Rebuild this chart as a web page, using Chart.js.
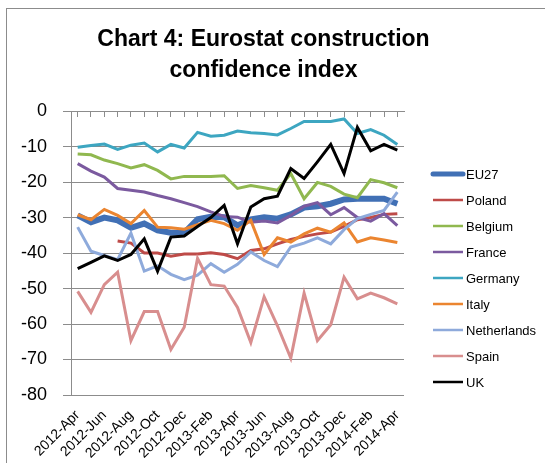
<!DOCTYPE html>
<html>
<head>
<meta charset="utf-8">
<script src="https://cdn.jsdelivr.net/npm/chart.js@4.4.0/dist/chart.umd.min.js"></script>
<style>
html, body { margin: 0; padding: 0; background: #fff; }
</style>
</head>
<body>
<canvas id="chart4" width="545" height="463"></canvas>
<script>
var months = ['2012-Apr', '2012-May', '2012-Jun', '2012-Jul', '2012-Aug', '2012-Sep', '2012-Oct', '2012-Nov', '2012-Dec',
    '2013-Jan', '2013-Feb', '2013-Mar', '2013-Apr', '2013-May', '2013-Jun', '2013-Jul', '2013-Aug', '2013-Sep',
    '2013-Oct', '2013-Nov', '2013-Dec', '2014-Jan', '2014-Feb', '2014-Mar', '2014-Apr'];

var eu27 = [-29.4, -31.3, -30.0, -30.8, -32.9, -31.7, -33.6, -34.3, -34.3, -30.5, -29.8, -29.9, -32.2, -30.5, -29.9, -30.3, -29.1, -27.2, -26.8, -26.1, -24.9, -24.7, -24.7, -24.7, -26.1];
var poland = [null, null, null, -36.6, -37.2, -40.0, -40.0, -40.9, -40.3, -40.3, -39.9, -40.4, -41.6, -39.3, -38.8, -37.4, -36.2, -35.3, -34.6, -34.1, -32.5, -30.6, -30.0, -29.1, -28.9];
var belgium = [-12.1, -12.3, -13.8, -14.8, -16.0, -15.1, -16.7, -19.1, -18.4, -18.4, -18.4, -18.2, -21.8, -21.0, -21.6, -22.3, -17.6, -24.7, -20.1, -21.2, -23.4, -24.4, -19.3, -20.2, -21.6];
var france = [-14.8, -16.9, -18.6, -21.8, -22.3, -22.8, -23.8, -24.7, -25.8, -26.9, -28.4, -29.7, -29.9, -31.3, -31.0, -31.5, -29.4, -26.8, -25.8, -29.2, -27.2, -30.0, -31.0, -28.9, -32.3];
var germany = [-10.2, -9.7, -9.3, -10.8, -9.6, -9.0, -11.5, -9.4, -10.4, -6.0, -7.1, -6.8, -5.6, -6.1, -6.3, -6.7, -4.9, -2.9, -2.9, -2.9, -2.2, -6.3, -5.2, -6.8, -9.4];
var italy = [-29.2, -30.6, -27.7, -29.4, -31.7, -28.0, -32.7, -32.9, -33.3, -32.0, -30.8, -31.7, -33.6, -30.8, -40.4, -35.7, -36.9, -34.6, -33.0, -34.1, -31.5, -36.9, -35.7, -36.3, -37.0];
var netherlands = [-32.7, -39.5, -40.7, -41.9, -34.4, -45.1, -43.6, -46.0, -47.5, -46.2, -43.0, -45.4, -43.2, -39.7, -42.1, -43.8, -38.3, -37.2, -35.7, -37.4, -33.4, -30.3, -29.1, -28.0, -22.8];
var spain = [-50.8, -56.7, -48.9, -45.4, -64.7, -56.5, -56.5, -67.2, -60.9, -41.5, -48.9, -49.3, -55.3, -65.2, -52.3, -60.5, -69.6, -51.3, -64.7, -60.2, -46.8, -52.9, -51.3, -52.6, -54.3];
var uk = [-44.4, -42.6, -40.8, -42.1, -40.4, -36.0, -45.1, -35.5, -35.2, -32.5, -30.0, -26.6, -37.4, -27.0, -24.7, -24.0, -16.2, -19.0, -14.3, -9.4, -17.6, -4.6, -11.2, -9.4, -11.0];

var seriesNames = ['EU27', 'Poland', 'Belgium', 'France', 'Germany', 'Italy', 'Netherlands', 'Spain', 'UK'];
var seriesData = [eu27, poland, belgium, france, germany, italy, netherlands, spain, uk];
var seriesColors = ['#4170B5', '#BE4B48', '#90B84F', '#7B5A9F', '#3DA6C1', '#EB8530', '#8EAADB', '#D88E8E', '#000000'];

Chart.defaults.font.family = '"Liberation Sans", Arial, sans-serif';
Chart.defaults.color = '#000';

// white page plus the thin frame round the chart
var frame = {
    id: 'frame',
    beforeDraw: function (chart) {
        var ctx = chart.ctx;
        ctx.save();
        ctx.fillStyle = '#fff';
        ctx.fillRect(0, 0, chart.width, chart.height);
        ctx.strokeStyle = '#8c8c8c';
        ctx.lineWidth = 1;
        ctx.strokeRect(6.5, 8.5, 600, 600);
        ctx.restore();
    }
};

// legend on the right, one row per series
var sideLegend = {
    id: 'sideLegend',
    afterDraw: function (chart) {
        var ctx = chart.ctx;
        ctx.save();
        ctx.font = '13px "Liberation Sans", Arial, sans-serif';
        ctx.textBaseline = 'middle';
        chart.data.datasets.forEach(function (ds, i) {
            var y = 174 + i * 26;
            ctx.strokeStyle = ds.borderColor;
            ctx.lineWidth = i === 0 ? 5 : 2.5;
            ctx.lineCap = i === 0 ? 'round' : 'butt';
            ctx.beginPath();
            ctx.moveTo(433, y);
            ctx.lineTo(463, y);
            ctx.stroke();
            ctx.fillStyle = '#000';
            ctx.fillText(ds.label, 466, y + 1);
        });
        ctx.restore();
    }
};

var datasets = seriesNames.map(function (name, i) {
    return {
        label: name,
        data: seriesData[i],
        borderColor: seriesColors[i],
        backgroundColor: seriesColors[i],
        borderWidth: i === 0 ? 6 : 3,
        pointRadius: 0,
        tension: 0,
        fill: false,
        spanGaps: false,
        order: seriesNames.length - i
    };
});

var ctx = document.getElementById('chart4').getContext('2d');
var chart4 = new Chart(ctx, {
    type: 'line',
    data: {
        labels: months,
        datasets: datasets
    },
    options: {
        responsive: false,
        animation: false,
        layout: {
            padding: { left: 0, right: 18, top: 0, bottom: 0 }
        },
        plugins: {
            legend: { display: false },
            tooltip: { enabled: false },
            title: {
                display: true,
                text: ['Chart 4: Eurostat construction', 'confidence index'],
                color: '#000',
                font: { size: 23, weight: 'bold', lineHeight: 1.35 },
                padding: { top: 24, bottom: 25 }
            }
        },
        scales: {
            x: {
                type: 'category',
                position: 'bottom',
                offset: true,
                grid: { display: false },
                border: { display: false },
                ticks: {
                    autoSkip: false,
                    minRotation: 45,
                    maxRotation: 45,
                    padding: 4,
                    font: { size: 14 },
                    callback: function (val, idx) {
                        return idx % 2 === 0 ? this.getLabelForValue(val) : '';
                    }
                },
                afterFit: function (scale) { scale.height = 68; }
            },
            // category axis crosses at 0: tick marks hang down from that line
            xZero: {
                type: 'category',
                position: { y: 0 },
                offset: true,
                grid: { drawOnChartArea: false, tickLength: 5, color: '#8c8c8c' },
                border: { display: true, color: '#8c8c8c' },
                ticks: { display: false }
            },
            y: {
                min: -80,
                max: 0,
                position: 'left',
                ticks: { stepSize: 10, padding: 16, font: { size: 18 } },
                grid: { color: '#8c8c8c', tickLength: 8 },
                border: { color: '#8c8c8c' },
                afterFit: function (scale) { scale.width = 71; }
            },
            ySpace: {
                type: 'linear',
                position: 'right',
                grid: { display: false },
                border: { display: false },
                ticks: { display: false },
                afterFit: function (scale) { scale.width = 123; }
            }
        }
    },
    plugins: [frame, sideLegend]
});
</script>
</body>
</html>
